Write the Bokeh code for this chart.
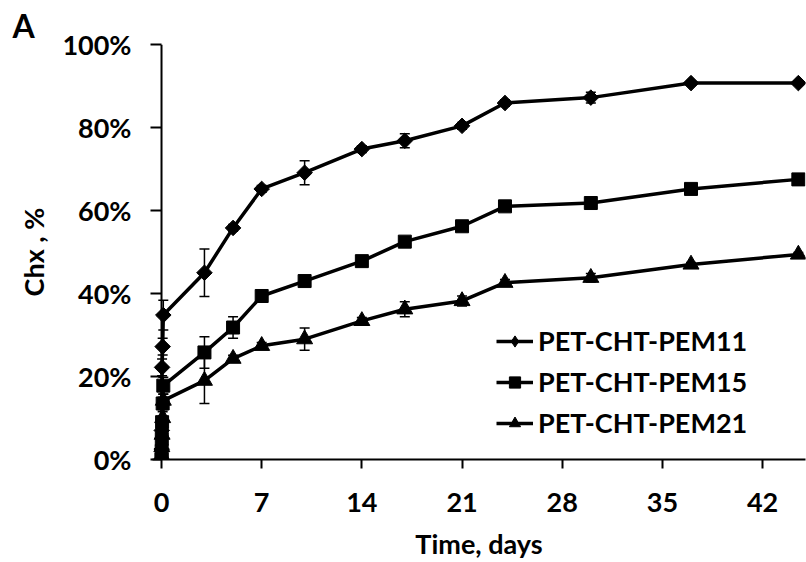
import numpy as np
from bokeh.plotting import figure
from bokeh.models import (ColumnDataSource, Range1d, FixedTicker, Whisker, TeeHead,
                          Legend, LegendItem, Span)
from bokeh.embed import file_html
from bokeh.resources import INLINE

# ---- data ----
days = [0, 0.01, 0.02, 0.04, 0.08, 0.125, 3, 5, 7, 10, 14, 17, 21, 24, 30, 37, 44.5]

pem11 = [0, 2.5, 7.0, 22.2, 27.2, 34.8, 45.0, 55.8, 65.2, 69.1, 74.8, 76.8, 80.4, 85.9, 87.2, 90.7, 90.7]
err11 = [0, 0.5, 1.0, 2.0, 2.0, 3.6, 5.7, 0.8, 0.8, 2.9, 0.8, 1.7, 0.8, 0.8, 1.3, 0.5, 0.5]

pem15 = [0, 2.0, 5.0, 9.0, 13.5, 17.8, 25.8, 31.8, 39.4, 43.0, 47.8, 52.5, 56.2, 61.0, 61.8, 65.2, 67.5]
err15 = [0, 0.5, 1.0, 1.0, 1.5, 2.0, 3.8, 2.6, 0.8, 0.8, 0.8, 0.8, 0.8, 0.8, 0.8, 0.8, 0.5]

pem21 = [0, 1.0, 3.0, 6.0, 10.0, 14.2, 19.0, 24.3, 27.4, 29.0, 33.4, 36.2, 38.2, 42.6, 43.8, 47.0, 49.4]
err21 = [0, 0.5, 1.0, 1.0, 1.5, 1.5, 5.5, 0.8, 0.8, 2.7, 0.8, 1.8, 1.2, 0.8, 1.0, 0.5, 0.5]

series_names = ["PET-CHT-PEM11", "PET-CHT-PEM15", "PET-CHT-PEM21"]
x_ticks = [0, 7, 14, 21, 28, 35, 42]
y_ticks = [0, 20, 40, 60, 80, 100]
y_tick_labels = ["0%", "20%", "40%", "60%", "80%", "100%"]
x_title = "Time, days"
y_title = "Chx , %"
panel_letter = "A"

FONT = "Lato"

p = figure(width=806, height=562,
           x_range=Range1d(-0.63, 45), y_range=Range1d(0, 100),
           output_backend="svg", toolbar_location=None,
           min_border_left=152, min_border_right=1,
           min_border_top=44, min_border_bottom=101)
p.xgrid.visible = False
p.ygrid.visible = False
p.outline_line_color = None
p.background_fill_color = "white"
p.border_fill_color = "white"

p.title.text = panel_letter
p.title.text_font = FONT
p.title.text_font_style = "bold"
p.title.text_font_size = "32px"
p.title.text_color = "black"
p.title.align = "left"
p.title.offset = -140
p.title.standoff = 0

for ax in (p.xaxis[0], p.yaxis[0]):
    ax.axis_line_width = 2
    ax.axis_line_color = "black"
    ax.major_tick_line_width = 2
    ax.major_tick_line_color = "black"
    ax.major_tick_in = 0
    ax.minor_tick_line_color = None
    ax.major_label_text_font = FONT
    ax.major_label_text_font_style = "bold"
    ax.major_label_text_font_size = "27px"
    ax.major_label_text_color = "black"
    ax.axis_label_text_font = FONT
    ax.axis_label_text_font_style = "bold"
    ax.axis_label_text_font_size = "27px"
    ax.axis_label_text_color = "black"

p.xaxis.ticker = FixedTicker(ticks=x_ticks)
p.yaxis.ticker = FixedTicker(ticks=y_ticks)
p.yaxis.major_label_overrides = {v: lab for v, lab in zip(y_ticks, y_tick_labels)}
p.xaxis.major_tick_out = 9
# y axis drawn at day 0 (slightly inside the frame) so markers at t=0 are not clipped
p.yaxis.axis_line_color = None
p.yaxis.major_tick_in = 9
p.yaxis.major_tick_out = 2
p.add_layout(Span(location=0, dimension="height", line_color="black", line_width=2))
p.xaxis.major_label_standoff = 24
p.yaxis.major_label_standoff = 19
p.xaxis.axis_label = x_title
p.yaxis.axis_label = y_title
p.xaxis.axis_label_standoff = 12
p.yaxis.axis_label_standoff = 9

values = [pem11, pem15, pem21]
errors = [err11, err15, err21]
markers = ["diamond", "square", "triangle"]

items = []
for name, vals, errs, mk in zip(series_names, values, errors, markers):
    v = np.array(vals, dtype=float)
    e = np.array(errs, dtype=float)
    src = ColumnDataSource(dict(t=days, v=v, lo=v - e, hi=v + e))
    wh = Whisker(source=src, base="t", lower="lo", upper="hi", dimension="height",
                 line_color="black", line_width=1.5,
                 upper_head=TeeHead(size=10, line_width=1.5, line_color="black"),
                 lower_head=TeeHead(size=10, line_width=1.5, line_color="black"))
    p.add_layout(wh)
    lr = p.line("t", "v", source=src, line_color="black", line_width=3.5)
    if mk == "diamond":
        leg_r = p.scatter("t", "v", source=src, marker="diamond", size=9,
                          fill_color="black", line_color="black")
        p.scatter("t", "v", source=src, marker="square", angle=np.pi / 4, size=11,
                  fill_color="black", line_color="black")
    elif mk == "square":
        leg_r = p.scatter("t", "v", source=src, marker="square", size=13,
                          fill_color="black", line_color="black")
    else:
        leg_r = p.scatter("t", "v", source=src, marker="triangle", size=16,
                          fill_color="black", line_color="black")
    items.append(LegendItem(label=name, renderers=[lr, leg_r]))

legend = Legend(items=items, location=(344, 20), orientation="vertical",
                glyph_width=37, glyph_height=28, label_standoff=5, spacing=8,
                padding=0, margin=0, border_line_color=None,
                background_fill_alpha=0,
                label_text_font=FONT, label_text_font_style="bold",
                label_text_font_size="27px", label_text_color="black")
p.add_layout(legend)

open("out.html", "w").write(file_html(p, INLINE))
